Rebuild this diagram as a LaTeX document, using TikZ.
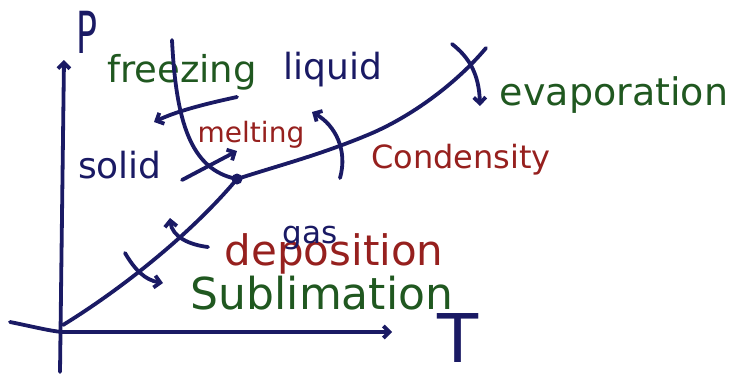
\documentclass[tikz,border=0pt]{standalone}
\usepackage{fontspec}
\setmainfont{DejaVu Sans}
\usetikzlibrary{arrows.meta}
\definecolor{ink}{RGB}{26,26,100}
\definecolor{grn}{RGB}{32,88,32}
\definecolor{rd}{RGB}{150,32,30}
\newcommand{\fs}[1]{\fontsize{#1}{#1}\selectfont}
\begin{document}
\begin{tikzpicture}[x=1pt,y=-1pt,
  curve/.style={draw=ink,line width=3.8pt,line cap=round,line join=round},
  tip/.style={-{Straight Barb[length=6pt,width=12pt]}},
  lbl/.style={inner sep=0pt,anchor=center}]
\useasboundingbox (0,0) rectangle (739,380);
% labels
\node[lbl,text=ink] (P) at (87,32) {\fs{58}\scalebox{0.6}[1]{P}};
\node[lbl,text=ink] (T) at (458,338) {\fs{56}\scalebox{1.2}[1.2]{T}};
\node[lbl,text=grn] (freezing) at (182,72) {\fs{37}freezing};
\node[lbl,text=ink] (liquid) at (333,70) {\fs{36}liquid};
\node[lbl,text=rd] (melting) at (251,135) {\fs{28}melting};
\node[lbl,text=ink] (solid) at (120,165) {\fs{36}solid};
\node[lbl,text=grn] (evap) at (614,95) {\fs{38}evaporation};
\node[lbl,text=rd] (cond) at (461,160) {\fs{32}Condensity};
\node[lbl,text=rd] (depo) at (334,254) {\fs{42}deposition};
\node[lbl,text=ink] (gas) at (310,238) {\fs{31}gas};
\node[lbl,text=grn] (subl) at (322,293) {\fs{44}Sublimation};
% coordinates
\coordinate (ybot) at (60,372);
\coordinate (ytop) at (64,60);
\coordinate (xl) at (10,322);
\coordinate (x0) at (62,332);
\coordinate (xr) at (392,332);
\coordinate (o) at (63,325);
\coordinate (tp) at (237,179);
\coordinate (vmid) at (370,134);
\coordinate (vend) at (486,48);
\coordinate (mtop) at (172,40);
% axes
\draw[curve,tip] (ybot) -- (ytop);
\draw[curve,tip] (xl) .. controls (30,326) and (50,331) .. (x0) -- (xr);
% phase boundaries
\draw[curve] (o) .. controls (120,290) and (190,235) .. (tp);
\draw[curve] (tp) .. controls (280,165) and (320,155) .. (vmid)
  .. controls (410,117) and (455,85) .. (vend);
\draw[curve] (mtop) .. controls (176,120) and (190,170) .. (tp);
\node[circle,fill=ink,inner sep=0pt,minimum size=11pt] (tpd) at (tp) {};
% transition arrows
\coordinate (fa) at (237,97);  \coordinate (fb) at (154,122);
\draw[curve,tip] (fa) .. controls (200,105) and (175,112) .. (fb);
\coordinate (ma) at (182,180); \coordinate (mb) at (237,151);
\draw[curve,tip] (ma) -- (mb);
\coordinate (ca) at (340,178); \coordinate (cb) at (312,112);
\draw[curve,tip] (ca) .. controls (348,150) and (335,125) .. (cb);
\coordinate (ea) at (452,44); \coordinate (eb) at (480,106);
\draw[curve,tip] (ea) .. controls (470,58) and (479,75) .. (eb);
\coordinate (da) at (208,247); \coordinate (db) at (170,218);
\draw[curve,tip] (da) .. controls (190,245) and (172,237) .. (db);
\coordinate (sa) at (125,253); \coordinate (sb) at (163,283);
\draw[curve,tip] (sa) .. controls (135,270) and (145,280) .. (sb);
\end{tikzpicture}
\end{document}
